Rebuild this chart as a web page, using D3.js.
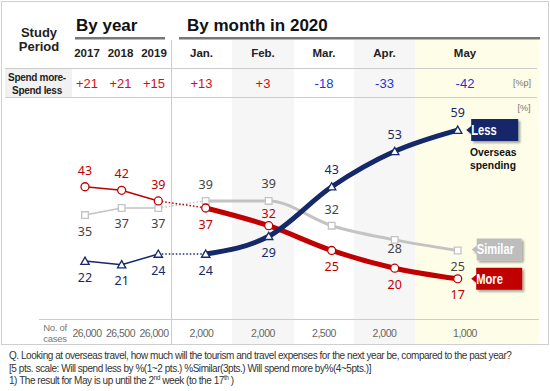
<!DOCTYPE html>
<html><head><meta charset="utf-8">
<script src="https://cdn.jsdelivr.net/npm/d3@7"></script>
<style>body{margin:0;background:#fff;} svg{display:block;font-family:"Liberation Sans",Arial,sans-serif;}</style>
</head><body><svg id="c" width="550" height="391"></svg>
<script>
// ---- data ----
const years = ["2017", "2018", "2019"];
const months = ["Jan.", "Feb.", "Mar.", "Apr.", "May"];
const yearDiff = ["+21", "+21", "+15"];
const monthDiff = ["+13", "+3", "-18", "-33", "-42"];
const yearCases = ["26,000", "26,500", "26,000"];
const monthCases = ["2,000", "2,000", "2,500", "2,000", "1,000"];
const moreYear = [43, 42, 39];
const moreMonth = [37, 32, 25, 20, 17];
const similarYear = [35, 37, 37];
const similarMonth = [39, 39, 32, 28, 25];
const lessYear = [22, 21, 24];
const lessMonth = [24, 29, 43, 53, 59];
const seriesNames = ["Less", "Similar", "More"];

// ---- layout ----
const svg = d3.select("#c");
const W = 550, H = 391;
const RED = "#c00000", NAVY = "#14286a", GRAY = "#c3c3c3", BLUE = "#1e35d2", HRED = "#d0101a";
const xYear = d3.scalePoint().domain(years).range([85, 158.3]);
const xMonth = d3.scalePoint().domain(months).range([205.7, 457.7]);
const xYearCol = d3.scalePoint().domain(years).range([87, 154]);
const monthCols = [[171, 232], [232, 294], [294, 354], [354, 415], [415, 515]];
const xMonthCol = m => { const c = monthCols[months.indexOf(m)]; return (c[0] + c[1]) / 2; };
const y = d3.scaleLinear().domain([0, 59]).range([339, 130.1]);

const defs = svg.append("defs");
const f = defs.append("filter").attr("id", "sh").attr("x", "-20%").attr("y", "-30%").attr("width", "150%").attr("height", "170%");
f.append("feDropShadow").attr("dx", 2).attr("dy", 2).attr("stdDeviation", 1.2).attr("flood-color", "#000").attr("flood-opacity", 0.35);

svg.append("rect").attr("width", W).attr("height", H).attr("fill", "#fff");

// column shading
const shade = [[232, 294, "#f6f6f6"], [354, 415, "#f6f6f6"], [415, 539, "#fefde7"]];
svg.selectAll("rect.shade").data(shade).join("rect").attr("class", "shade")
  .attr("x", d => d[0]).attr("y", 40).attr("width", d => d[1] - d[0]).attr("height", 304).attr("fill", d => d[2]);

// frame
svg.append("rect").attr("x", 1.5).attr("y", 1.5).attr("width", 547).attr("height", 343)
  .attr("fill", "none").attr("stroke", "#cfcfcf");

// header titles
svg.append("text").attr("x", 39).attr("y", 37).attr("text-anchor", "middle").attr("font-size", 13).attr("font-weight", "bold").attr("fill", "#222").text("Study");
svg.append("text").attr("x", 39).attr("y", 51).attr("text-anchor", "middle").attr("font-size", 13).attr("font-weight", "bold").attr("fill", "#222").text("Period");
svg.append("text").attr("x", 76).attr("y", 31).attr("font-size", 17).attr("font-weight", "bold").attr("fill", "#111").text("By year");
svg.append("text").attr("x", 187).attr("y", 31).attr("font-size", 17).attr("font-weight", "bold").attr("fill", "#111").text("By month in 2020");
svg.append("rect").attr("x", 75).attr("y", 37).attr("width", 90).attr("height", 2.5).attr("fill", "#777");
svg.append("rect").attr("x", 179).attr("y", 37).attr("width", 361).attr("height", 2.5).attr("fill", "#777");

// period labels
svg.selectAll("text.yl").data(years).join("text").attr("class", "yl")
  .attr("x", d => xYearCol(d)).attr("y", 57).attr("text-anchor", "middle")
  .attr("font-size", 11.5).attr("font-weight", "bold").attr("fill", "#222").text(d => d);
svg.selectAll("text.ml").data(months).join("text").attr("class", "ml")
  .attr("x", d => xMonthCol(d)).attr("y", 57).attr("text-anchor", "middle")
  .attr("font-size", 11.5).attr("font-weight", "bold").attr("fill", "#222").text(d => d);

// grid lines
svg.append("rect").attr("x", 5).attr("y", 69).attr("width", 67).attr("height", 28).attr("fill", "#f1f1f1");
[68.5, 97.5].forEach(v => svg.append("line").attr("x1", 5).attr("x2", 537).attr("y1", v).attr("y2", v).attr("stroke", "#cccccc"));
svg.append("line").attr("x1", 171.5).attr("x2", 171.5).attr("y1", 40).attr("y2", 344).attr("stroke", "#cccccc");
svg.append("line").attr("x1", 39).attr("x2", 539).attr("y1", 319.5).attr("y2", 319.5).attr("stroke", "#cccccc");

// diff row
svg.append("text").attr("x", 37).attr("y", 81).attr("text-anchor", "middle").attr("font-size", 10).attr("font-weight", "bold").attr("letter-spacing", -0.3).attr("fill", "#222").text("Spend more-");
svg.append("text").attr("x", 37).attr("y", 93.5).attr("text-anchor", "middle").attr("font-size", 10).attr("font-weight", "bold").attr("letter-spacing", -0.3).attr("fill", "#222").text("Spend less");
svg.selectAll("text.yd").data(yearDiff).join("text").attr("class", "yd")
  .attr("x", (d, i) => xYearCol(years[i])).attr("y", 87.5).attr("text-anchor", "middle")
  .attr("font-size", 13).attr("fill", d => d[0] === "+" ? HRED : BLUE).text(d => d);
svg.selectAll("text.md").data(monthDiff).join("text").attr("class", "md")
  .attr("x", (d, i) => xMonthCol(months[i])).attr("y", 87.5).attr("text-anchor", "middle")
  .attr("font-size", 13).attr("fill", d => d[0] === "+" ? HRED : BLUE).text(d => d);
svg.append("text").attr("x", 522).attr("y", 86).attr("text-anchor", "middle").attr("font-size", 9).attr("fill", "#777").text("[%p]");
svg.append("text").attr("x", 524).attr("y", 111).attr("text-anchor", "middle").attr("font-size", 9).attr("fill", "#777").text("[%]");

// cases row
svg.append("text").attr("x", 55).attr("y", 331).attr("text-anchor", "middle").attr("font-size", 9.5).attr("letter-spacing", -0.3).attr("fill", "#777").text("No. of");
svg.append("text").attr("x", 55).attr("y", 342).attr("text-anchor", "middle").attr("font-size", 9.5).attr("letter-spacing", -0.3).attr("fill", "#777").text("cases");
svg.selectAll("text.yc").data(yearCases).join("text").attr("class", "yc")
  .attr("x", (d, i) => xYearCol(years[i])).attr("y", 337).attr("text-anchor", "middle")
  .attr("font-size", 10.5).attr("letter-spacing", -0.5).attr("fill", "#666").text(d => d);
svg.selectAll("text.mc").data(monthCases).join("text").attr("class", "mc")
  .attr("x", (d, i) => xMonthCol(months[i])).attr("y", 337).attr("text-anchor", "middle")
  .attr("font-size", 10.5).attr("letter-spacing", -0.5).attr("fill", "#666").text(d => d);

// ---- series ----
const series = [
  { name: "Similar", color: GRAY, txt: "#444", yv: similarYear, mv: similarMonth, w: 3, sym: d3.symbolSquare, size: 44,
    ydy: [16, 16, 16], mdy: [-16.5, -17, -16, 9, 16] },
  { name: "More", color: RED, txt: RED, yv: moreYear, mv: moreMonth, w: 5, sym: d3.symbolCircle, size: 50,
    ydy: [-16.5, -16.5, -16.5], mdy: [16.5, -12, 16.5, 16.5, 16] },
  { name: "Less", color: NAVY, txt: NAVY, yv: lessYear, mv: lessMonth, w: 5, sym: d3.symbolTriangle, size: 30,
    ydy: [16, 16, 16], mdy: [16, 16.5, -17, -17, -17.5] }
];
const line = d3.line().x(d => d[0]).y(d => d[1]);
const curve = d3.line().x(d => d[0]).y(d => d[1]).curve(d3.curveMonotoneX);

series.forEach(s => {
  const yp = s.yv.map((v, i) => [xYear(years[i]), y(v)]);
  const mp = s.mv.map((v, i) => [xMonth(months[i]), y(v)]);
  const g = svg.append("g");
  g.append("path").attr("d", line(yp)).attr("fill", "none").attr("stroke", s.color).attr("stroke-width", 1.5);
  g.append("path").attr("d", line([yp[yp.length - 1], mp[0]])).attr("fill", "none").attr("stroke", s.color)
    .attr("stroke-width", 1.5).attr("stroke-dasharray", "1.5,2");
  g.append("path").attr("d", curve(mp)).attr("fill", "none").attr("stroke", s.color).attr("stroke-width", s.w).attr("stroke-linecap", "round");
  s.g = g; s.yp = yp; s.mp = mp;
});
series.forEach(s => {
  const pts = s.yp.concat(s.mp);
  s.g.selectAll("path.m").data(pts).join("path").attr("class", "m")
    .attr("transform", d => `translate(${d[0]},${d[1] + (s.sym === d3.symbolTriangle ? 0.8 : 0)})`)
    .attr("d", d3.symbol().type(s.sym).size(s.size)).attr("fill", "#fff").attr("stroke", s.color).attr("stroke-width", 1.3);
  const vals = s.yv.concat(s.mv), dys = s.ydy.concat(s.mdy);
  svg.selectAll(null).data(pts).join("text")
    .attr("x", d => d[0]).attr("y", (d, i) => d[1] + dys[i] + 4.5).attr("text-anchor", "middle")
    .attr("font-family", "'Noto Sans', 'DejaVu Sans', sans-serif").attr("font-size", 12.5).attr("fill", s.txt)
    .text((d, i) => vals[i]);
});

// badges
function badge(x0, yc, w, h, fill, label) {
  const x1 = x0 + w, t = yc - h / 2, b = yc + h / 2;
  const pts = [[x0 + 5, t], [x1, t], [x1, b], [x0 + 5, b], [x0 + 5, yc + 4], [x0, yc], [x0 + 5, yc - 4]];
  svg.append("polygon").attr("points", pts.map(p => p.join(",")).join(" ")).attr("fill", fill).attr("filter", "url(#sh)");
  svg.append("text").attr("transform", `translate(${x0 + 5},${yc + 5}) scale(0.8,1)`).attr("font-size", 14).attr("font-weight", "bold")
    .attr("fill", "#fff").text(label);
}
const lastX = xMonth(months[months.length - 1]);
badge(lastX + 8.5, y(lessMonth[4]), 52, 22, NAVY, "Less");
badge(lastX + 14, y(similarMonth[4]) - 1, 50, 22, "#bdbdbd", "Similar");
badge(lastX + 13.5, y(moreMonth[4]), 51, 22, RED, "More");
svg.append("text").attr("transform", "translate(470,156) scale(0.9,1)").attr("font-size", 11.5).attr("font-weight", "bold").attr("fill", "#111").text("Overseas");
svg.append("text").attr("transform", "translate(470,169) scale(0.9,1)").attr("font-size", 11.5).attr("font-weight", "bold").attr("fill", "#111").text("spending");

// footnotes
const fn = svg.append("g").attr("font-size", 10).attr("fill", "#333").attr("letter-spacing", -0.45);
fn.append("text").attr("x", 9).attr("y", 359).text("Q. Looking at overseas travel, how much will the tourism and travel expenses for the next year be, compared to the past year?");
fn.append("text").attr("x", 9).attr("y", 372).text("[5 pts. scale: Will spend less by %(1~2 pts.) %Similar(3pts.) Will spend more by%(4~5pts.)]");
const t3 = fn.append("text").attr("x", 9).attr("y", 384);
t3.append("tspan").text("1) The result for May is up until the 2");
t3.append("tspan").attr("font-size", 6.5).attr("dy", -4).text("nd");
t3.append("tspan").attr("dy", 4).text(" week (to the 17");
t3.append("tspan").attr("font-size", 6.5).attr("dy", -4).text("th");
t3.append("tspan").attr("dy", 4).text(" )");
</script></body></html>
